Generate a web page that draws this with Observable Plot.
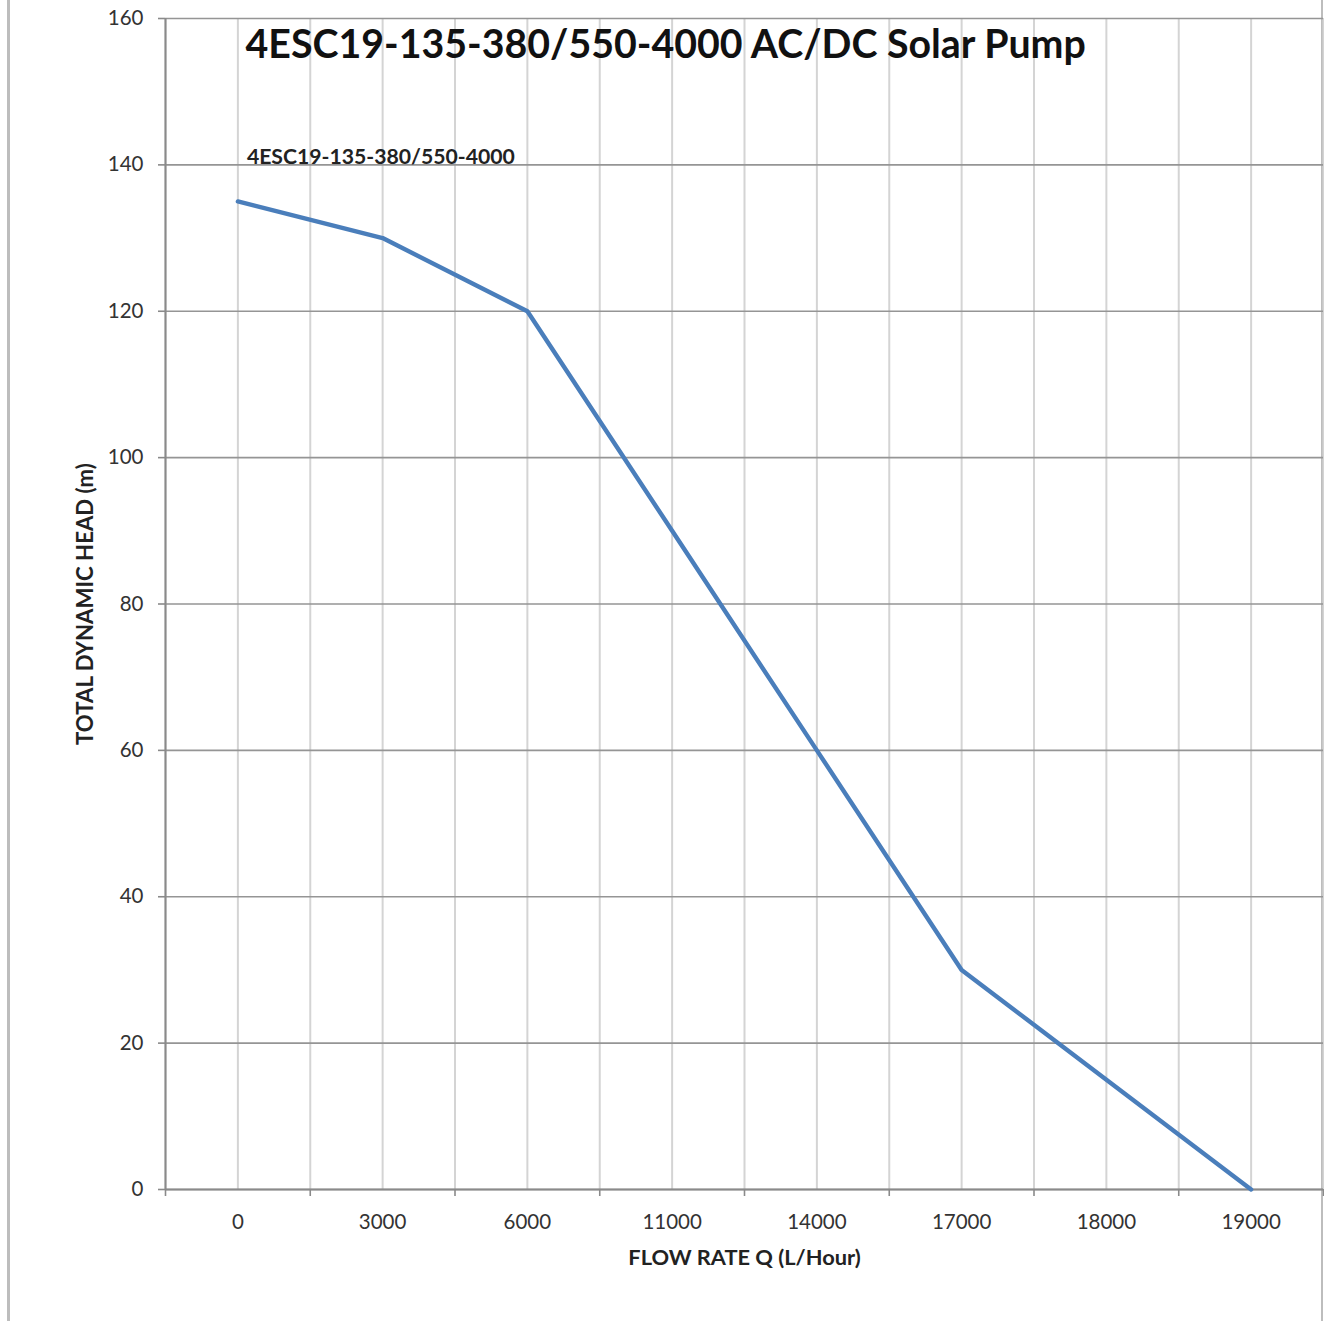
<!DOCTYPE html>
<html>
<head>
<meta charset="utf-8">
<script src="https://cdn.jsdelivr.net/npm/d3@7"></script>
<script src="https://cdn.jsdelivr.net/npm/@observablehq/plot@0.6"></script>
<style>
  html, body { margin: 0; padding: 0; background: #fff; }
  #wrap { position: relative; width: 1324px; height: 1321px; overflow: hidden; }
  .edge { position: absolute; top: 0; height: 1321px; background: #bdbdbd; }
</style>
</head>
<body>
<div id="wrap">
  <div class="edge" style="left:7px;width:3px;"></div>
  <div class="edge" style="left:1321px;width:2px;"></div>
</div>
<script>
const flows = ["0", "3000", "6000", "11000", "14000", "17000", "18000", "19000"];
const head = [135, 130, 120, 90, 60, 30, 15, 0];
const yTicks = [0, 20, 40, 60, 80, 100, 120, 140, 160];
const title = "4ESC19-135-380/550-4000 AC/DC Solar Pump";
const seriesName = "4ESC19-135-380/550-4000";
const xLabel = "FLOW RATE Q (L/Hour)";
const yLabel = "TOTAL DYNAMIC HEAD (m)";

const data = flows.map((f, i) => ({i, flow: f, head: head[i]}));
const centers = flows.map((f, i) => i);
const bounds = flows.map((f, i) => i - 0.5).concat([flows.length - 0.5]);

const chart = Plot.plot({
  width: 1324,
  height: 1321,
  marginLeft: 165,
  marginRight: 1,
  marginTop: 18,
  marginBottom: 132,
  style: {fontFamily: "Lato, 'Open Sans', sans-serif", background: "transparent"},
  x: {type: "linear", domain: [-0.5, flows.length - 0.5]},
  y: {domain: [0, 160]},
  marks: [
    Plot.ruleX(centers.concat(bounds), {stroke: "#d4d4d4", strokeWidth: 2}),
    Plot.ruleY(yTicks, {stroke: "#959595", strokeWidth: 1.6}),
    Plot.ruleX([-0.5], {stroke: "#8a8a8a", strokeWidth: 2}),
    Plot.ruleY([0], {stroke: "#8a8a8a", strokeWidth: 2}),
    Plot.axisY({ticks: yTicks, tickSize: 7, tickPadding: 15, fontSize: 20.5, label: null, stroke: "#8a8a8a", fill: "#333", strokeWidth: 1.6}),
    Plot.axisX({ticks: bounds, tickSize: 7, tickFormat: () => "", label: null, stroke: "#8a8a8a", strokeWidth: 1.6}),
    Plot.axisX({ticks: centers, tickSize: 0, tickPadding: 25, tickFormat: i => flows[i], fontSize: 20.5, label: null, fill: "#333"}),
    Plot.line(data, {x: "i", y: "head", stroke: "#4a7ebb", strokeWidth: 4.4}),
    Plot.text([seriesName], {x: 0, y: 141, text: d => d, textAnchor: "start", dx: 9, fontSize: 21.2, fontWeight: "bold", fill: "#222"}),
    Plot.text([title], {frameAnchor: "top-left", text: d => d, dx: 80, dy: 27, lineAnchor: "middle", textAnchor: "start", fontSize: 39.3, fontWeight: "bold", fill: "#111"}),
    Plot.text([xLabel], {frameAnchor: "bottom", text: d => d, dy: 69, lineAnchor: "middle", textAnchor: "middle", fontSize: 21.8, fontWeight: "bold", fill: "#222"}),
    Plot.text([yLabel], {frameAnchor: "left", text: d => d, dx: -80, rotate: -90, lineAnchor: "middle", textAnchor: "middle", fontSize: 22.2, fontWeight: "bold", fill: "#222"})
  ]
});
chart.style.position = "absolute";
chart.style.left = "0px";
chart.style.top = "0px";
document.getElementById("wrap").appendChild(chart);
</script>
</body>
</html>
